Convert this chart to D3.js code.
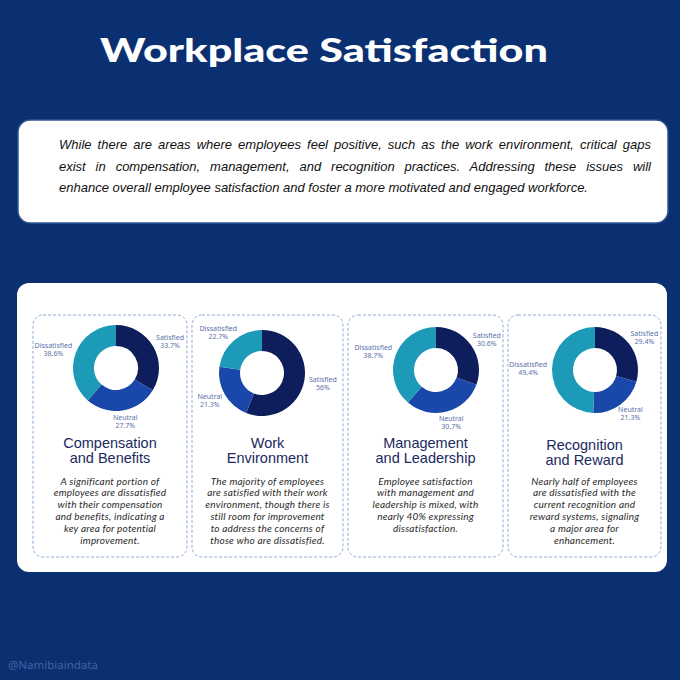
<!DOCTYPE html>
<html>
<head>
  <meta charset="utf-8">
  <script src="https://d3js.org/d3.v7.min.js"></script>
  <style>
    body { margin: 0; background: #0b3072; }
  </style>
</head>
<body>
  <div id="my_dataviz"></div>
  <script>
    // ---- data ----
    var segments = ["Satisfied", "Neutral", "Dissatisfied"];
    var satisfied = [33.7, 56, 30.6, 29.4];
    var neutral = [27.7, 21.3, 30.7, 21.3];
    var dissatisfied = [38.6, 22.7, 38.7, 49.4];
    var titleLines = [
      ["Compensation", "and Benefits"],
      ["Work", "Environment"],
      ["Management", "and Leadership"],
      ["Recognition", "and Reward"]
    ];
    var descriptions = [
      ["A significant portion of", "employees are dissatisfied", "with their compensation",
       "and benefits, indicating a", "key area for potential", "improvement."],
      ["The majority of employees", "are satisfied with their work", "environment, though there is",
       "still room for improvement", "to address the concerns of", "those who are dissatisfied."],
      ["Employee satisfaction", "with management and", "leadership is mixed, with",
       "nearly 40% expressing", "dissatisfaction."],
      ["Nearly half of employees", "are dissatisfied with the", "current recognition and",
       "reward systems, signaling", "a major area for", "enhancement."]
    ];
    var summaryLines = [
      "While there are areas where employees feel positive, such as the work environment, critical gaps",
      "exist in compensation, management, and recognition practices. Addressing these issues will",
      "enhance overall employee satisfaction and foster a more motivated and engaged workforce."
    ];
    var pageTitle = "Workplace Satisfaction";
    var handle = "@Namibiaindata";

    // ---- layout ----
    var width = 680, height = 680;
    var cardX = [33, 192, 348, 508], cardW = [154, 151, 155, 153];
    var donutCx = [116, 262, 436, 595], donutCy = [368, 373, 370, 370];
    var color = d3.scaleOrdinal()
      .domain(segments)
      .range(["#0e1e5c", "#1947aa", "#1c9ab7"]);

    var svg = d3.select("#my_dataviz")
      .append("svg")
      .attr("width", width)
      .attr("height", height);

    svg.append("rect").attr("width", width).attr("height", height).attr("fill", "#0b3072");

    // title
    svg.append("text")
      .attr("x", 324).attr("y", 62)
      .attr("text-anchor", "middle")
      .style("font-family", "Lato, 'DejaVu Sans', sans-serif")
      .style("font-weight", 900)
      .style("font-size", "33px")
      .attr("fill", "#ffffff")
      .attr("textLength", 448)
      .attr("lengthAdjust", "spacingAndGlyphs")
      .text(pageTitle);

    // summary box
    svg.append("rect")
      .attr("x", 18).attr("y", 120).attr("width", 650).attr("height", 103)
      .attr("rx", 12)
      .attr("fill", "#ffffff")
      .attr("stroke", "#2d5596").attr("stroke-width", 1.5);

    var summary = svg.append("g");
    summaryLines.forEach(function (line, i) {
      var t = summary.append("text")
        .attr("x", 59).attr("y", 149 + i * 21.5)
        .style("font-family", "'Liberation Sans', Arial, sans-serif")
        .style("font-style", "italic")
        .style("font-size", "13px")
        .attr("fill", "#111111")
        .text(line);
      // justify all but last line
      if (i < summaryLines.length - 1) {
        var natural = t.node().getComputedTextLength();
        var spaces = line.split(" ").length - 1;
        t.style("word-spacing", ((651 - 59 - natural) / spaces) + "px");
      }
    });

    // big white panel
    svg.append("rect")
      .attr("x", 17).attr("y", 283).attr("width", 650).attr("height", 289)
      .attr("rx", 12)
      .attr("fill", "#ffffff");

    var pie = d3.pie().sort(null).value(function (d) { return d.value; });
    var arc = d3.arc().innerRadius(22).outerRadius(43);

    d3.range(4).forEach(function (c) {
      var card = svg.append("g");
      card.append("rect")
        .attr("x", cardX[c]).attr("y", 315).attr("width", cardW[c]).attr("height", 242)
        .attr("rx", 10)
        .attr("fill", "none")
        .attr("stroke", "#8eaad6")
        .attr("stroke-width", 1)
        .attr("stroke-dasharray", "3,2");

      var data = [
        { key: "Satisfied", value: satisfied[c] },
        { key: "Neutral", value: neutral[c] },
        { key: "Dissatisfied", value: dissatisfied[c] }
      ];
      var arcs = pie(data);
      var g = card.append("g")
        .attr("transform", "translate(" + donutCx[c] + "," + donutCy[c] + ")");

      g.selectAll("path")
        .data(arcs)
        .enter()
        .append("path")
        .attr("d", arc)
        .attr("fill", function (d) { return color(d.data.key); });

      // labels outside each slice
      arcs.forEach(function (d) {
        var a = (d.startAngle + d.endAngle) / 2;
        var lab = g.append("text")
          .attr("text-anchor", "middle")
          .style("font-family", "'Noto Sans', sans-serif")
          .style("font-size", "7px")
          .attr("fill", "#5a71a8");
        var l1 = lab.append("tspan").text(d.data.key);
        var l2 = lab.append("tspan").text(d.data.value + "%");
        var w = Math.max(l1.node().getComputedTextLength(), l2.node().getComputedTextLength());
        var lx = Math.sin(a) * 46 + Math.sin(a) * (w / 2 + 2);
        var ly = -Math.cos(a) * 46 - Math.cos(a) * 8;
        l1.attr("x", lx).attr("y", ly - 1.5);
        l2.attr("x", lx).attr("y", ly + 6.5);
      });

      var cx = cardX[c] + cardW[c] / 2;
      titleLines[c].forEach(function (line, i) {
        card.append("text")
          .attr("x", cx).attr("y", 447.5 + i * 15 + (c === 3 ? 2 : 0))
          .attr("text-anchor", "middle")
          .style("font-family", "'Liberation Sans', Arial, sans-serif")
          .style("font-size", "14.5px")
          .attr("fill", "#1b2a60")
          .text(line);
      });

      descriptions[c].forEach(function (line, i) {
        card.append("text")
          .attr("x", cx).attr("y", 484.5 + i * 11.8)
          .attr("text-anchor", "middle")
          .style("font-family", "Lato, sans-serif")
          .style("font-style", "italic")
          .style("font-size", "10px")
          .style("letter-spacing", "0.2px")
          .attr("fill", "#2a2a2a")
          .text(line);
      });
    });

    // footer handle
    svg.append("text")
      .attr("x", 8).attr("y", 669)
      .style("font-family", "'Noto Sans', sans-serif")
      .style("font-size", "11.5px")
      .attr("fill", "#3f63a3")
      .text(handle);
  </script>
</body>
</html>
